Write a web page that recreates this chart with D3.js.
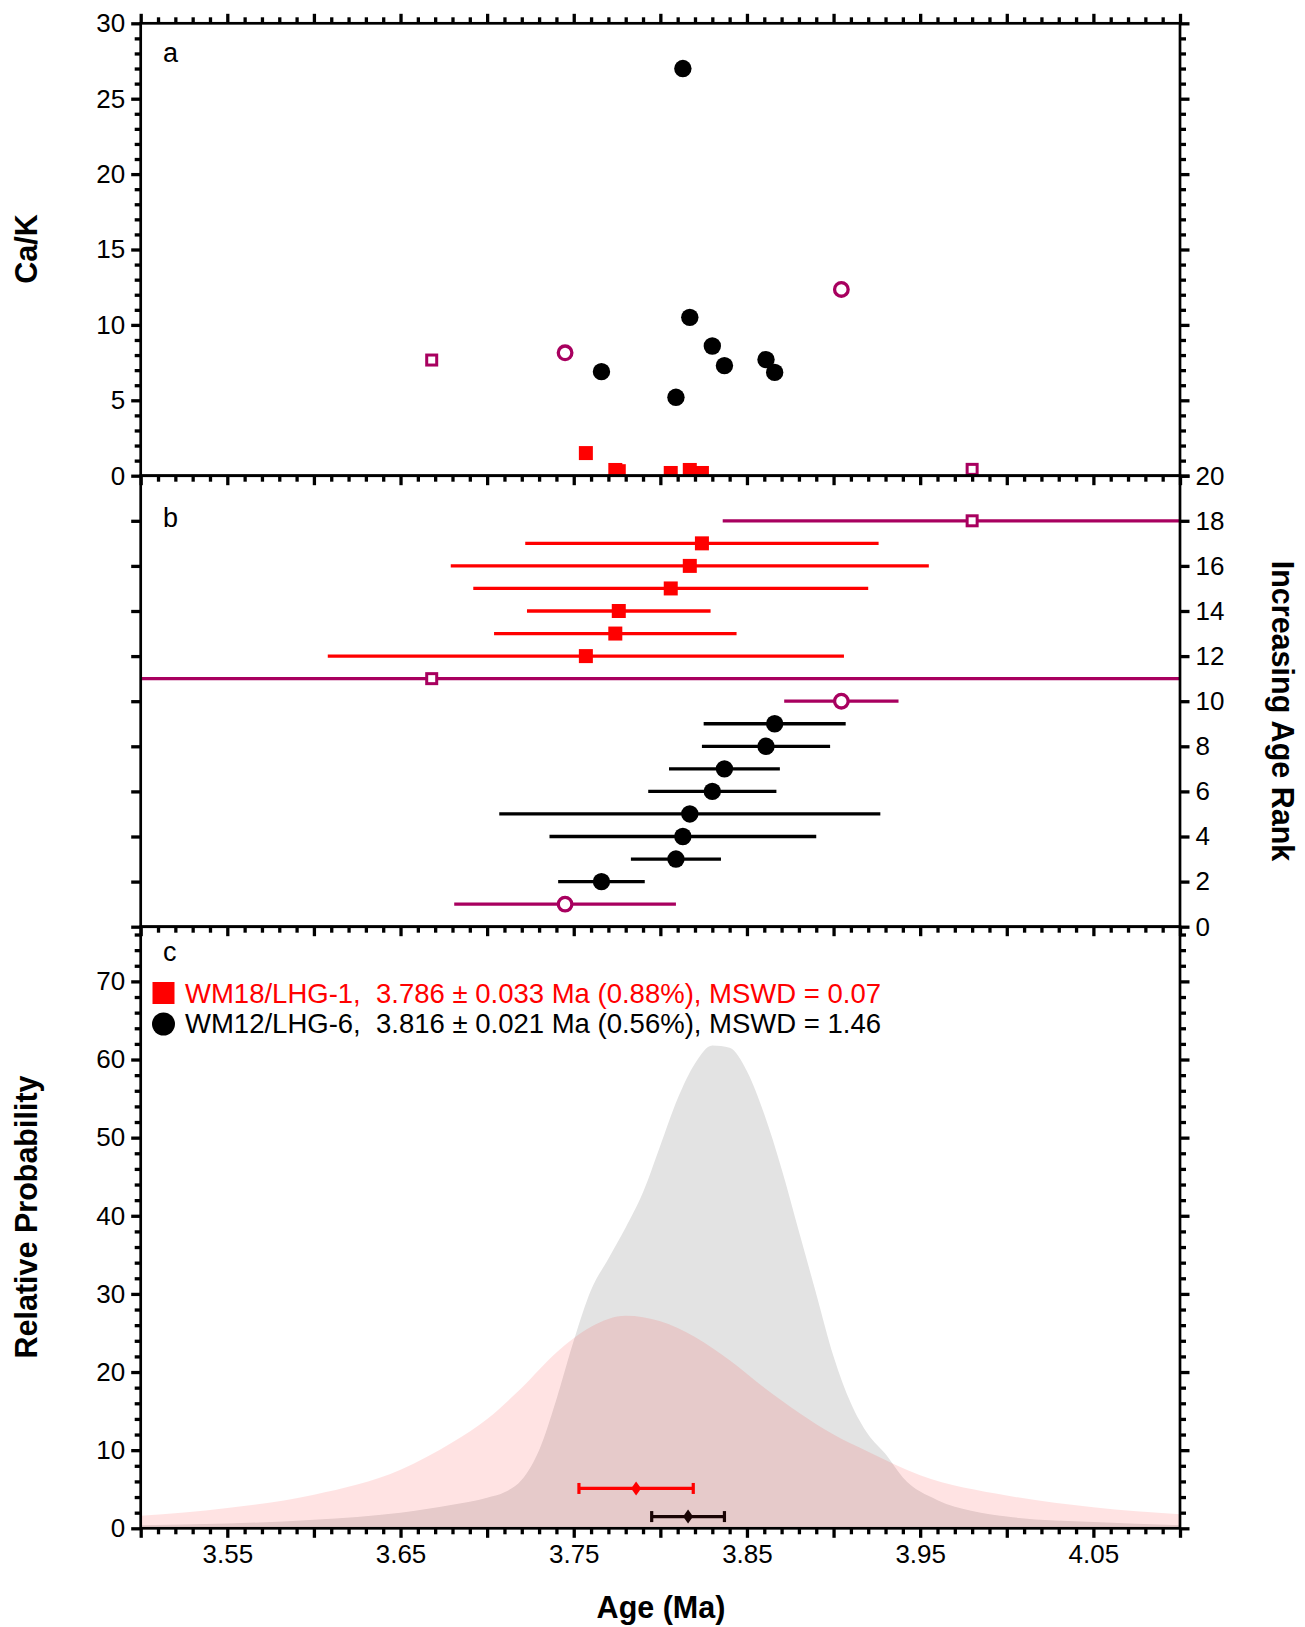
<!DOCTYPE html>
<html>
<head>
<meta charset="utf-8">
<script src="https://cdn.jsdelivr.net/npm/d3@7"></script>
<style>
  body { margin: 0; background: #fff; }
  svg text { font-family: "Liberation Sans", Arial, Helvetica, sans-serif; }
</style>
</head>
<body>
<div id="chart"></div>
<script>
// ---- data ----
// WM12/LHG-6 (black circles)
var blackRank = [2, 3, 4, 5, 6, 7, 8, 9];
var blackAge  = [3.766, 3.809, 3.813, 3.817, 3.830, 3.837, 3.861, 3.866];
var blackErr  = [0.025, 0.026, 0.077, 0.110, 0.037, 0.032, 0.037, 0.041];
var blackCaK  = [6.9, 5.2, 27.0, 10.5, 8.6, 7.3, 7.7, 6.85];

// WM18/LHG-1 (red squares)
var redRank = [12, 13, 14, 15, 16, 17];
var redAge  = [3.757, 3.774, 3.776, 3.806, 3.817, 3.824];
var redErr  = [0.149, 0.070, 0.053, 0.114, 0.138, 0.102];
var redCaK  = [1.5, 0.38, 0.3, 0.18, 0.38, 0.18];

// excluded (purple open circles / open squares)
var exclCircleRank = [1, 10];
var exclCircleAge  = [3.745, 3.9045];
var exclCircleErr  = [0.064, 0.033];
var exclCircleCaK  = [8.15, 12.35];

var exclSquareRank = [11, 18];
var exclSquareAge  = [3.668, 3.980];
var exclSquareErr  = [0.50, 0.144];
var exclSquareCaK  = [7.67, 0.42];

// probability curves (panel c)
var grayAges = [3.50, 3.55, 3.60, 3.65, 3.68, 3.70, 3.71, 3.72, 3.73, 3.74, 3.75, 3.76, 3.77, 3.78, 3.79, 3.80,
                3.81, 3.82, 3.83, 3.84, 3.85, 3.86, 3.87, 3.88, 3.89, 3.90, 3.91, 3.92, 3.93, 3.94, 3.96, 3.98,
                4.00, 4.05, 4.10];
var grayProb = [0.4, 0.6, 1.1, 2.0, 3.0, 3.9, 4.6, 6.2, 10, 16.5, 24, 30.5, 34.5, 38.5, 43, 49,
                55, 59.5, 61.8, 61.5, 58.5, 53, 46, 38, 30, 22, 16, 12, 9.5, 6.5, 3.6, 2.2,
                1.5, 0.8, 0.4];
var redAges = [3.50, 3.55, 3.60, 3.65, 3.68, 3.70, 3.72, 3.74, 3.76, 3.78, 3.80, 3.82, 3.84, 3.86, 3.88,
               3.90, 3.92, 3.95, 4.00, 4.05, 4.10];
var redProb = [1.6, 2.6, 4.3, 7.5, 11, 14, 18, 22.5, 25.8, 27.2, 26.5, 24.5, 21.5, 18, 14.8,
               12, 9.8, 6.8, 4.2, 2.7, 1.8];

// weighted mean ages
var meanLabels = ["WM18/LHG-1,  3.786 \u00b1 0.033 Ma (0.88%), MSWD = 0.07",
                  "WM12/LHG-6,  3.816 \u00b1 0.021 Ma (0.56%), MSWD = 1.46"];
var meanAge = [3.786, 3.816];
var meanErr = [0.033, 0.021];
var meanLevel = [5.1, 1.5];

// ticks
var xMajor = d3.range(13).map(function(i){ return +(3.5 + i * 0.05).toFixed(2); });
var xMinor = d3.range(61).map(function(i){ return +(3.5 + i * 0.01).toFixed(2); })
               .filter(function(v){ return xMajor.indexOf(v) < 0; });
var xLabels = [3.55, 3.65, 3.75, 3.85, 3.95, 4.05];

var RED = "#ff0000", PURPLE = "#a8005f", BLACK = "#000";

// ---- layout ----
var svg = d3.select("#chart").append("svg").attr("width", 1305).attr("height", 1627);
var left = 140.7, right = 1180;
var aTop = 23.3, aBot = 475.7, bBot = 926.7, cBot = 1528.3;

var x  = d3.scaleLinear().domain([3.5, 4.1]).range([left, right]);
var ya = d3.scaleLinear().domain([0, 30]).range([aBot, aTop]);
var yb = d3.scaleLinear().domain([0, 20]).range([bBot, aBot]);
var yc = d3.scaleLinear().domain([0, 77]).range([cBot, bBot]);

var defs = svg.append("defs");
function clip(id, y0, y1) {
  defs.append("clipPath").attr("id", id).append("rect")
    .attr("x", left).attr("y", y0).attr("width", right - left).attr("height", y1 - y0);
}
clip("clipA", aTop, aBot); clip("clipB", aBot, bBot); clip("clipC", bBot, cBot);

function rows(rank, age, err, cak, kind) {
  return rank.map(function(r, i){ return {rank: r, age: age[i], err: err[i], cak: cak[i], kind: kind}; });
}
var pts = [].concat(rows(blackRank, blackAge, blackErr, blackCaK, "black"),
                    rows(redRank, redAge, redErr, redCaK, "red"),
                    rows(exclCircleRank, exclCircleAge, exclCircleErr, exclCircleCaK, "pcircle"),
                    rows(exclSquareRank, exclSquareAge, exclSquareErr, exclSquareCaK, "psquare"));
function col(d){ return d.kind === "black" ? BLACK : d.kind === "red" ? RED : PURPLE; }

function marker(g, data, yFn) {
  data.forEach(function(d){
    var cx = x(d.age), cy = yFn(d);
    if (d.kind === "black") g.append("circle").attr("cx", cx).attr("cy", cy).attr("r", 8.7).attr("fill", BLACK);
    else if (d.kind === "red") g.append("rect").attr("x", cx - 7).attr("y", cy - 7).attr("width", 14).attr("height", 14).attr("fill", RED);
    else if (d.kind === "pcircle") g.append("circle").attr("cx", cx).attr("cy", cy).attr("r", 6.8)
        .attr("fill", "#fff").attr("stroke", PURPLE).attr("stroke-width", 3.3);
    else g.append("rect").attr("x", cx - 5).attr("y", cy - 5).attr("width", 10).attr("height", 10)
        .attr("fill", "#fff").attr("stroke", PURPLE).attr("stroke-width", 3);
  });
}

// ---- panel c: probability curves ----
var gc = svg.append("g").attr("clip-path", "url(#clipC)");
var area = d3.area().curve(d3.curveMonotoneX)
  .x(function(d){ return x(d[0]); }).y0(yc(0)).y1(function(d){ return yc(d[1]); });
gc.append("path").datum(d3.zip(grayAges, grayProb)).attr("d", area).attr("fill", "#e3e3e3");
gc.append("path").datum(d3.zip(redAges, redProb)).attr("d", area).attr("fill", "rgba(255,0,0,0.11)");

// weighted mean bars
var meanCol = [RED, "#1a0404"];
meanAge.forEach(function(m, i){
  var yy = yc(meanLevel[i]), x0 = x(m - meanErr[i]), x1 = x(m + meanErr[i]), xm = x(m);
  gc.append("line").attr("x1", x0).attr("x2", x1).attr("y1", yy).attr("y2", yy)
    .attr("stroke", meanCol[i]).attr("stroke-width", 3.2);
  [x0, x1].forEach(function(xx){
    gc.append("line").attr("x1", xx).attr("x2", xx).attr("y1", yy - 5.5).attr("y2", yy + 5.5)
      .attr("stroke", meanCol[i]).attr("stroke-width", 3.2);
  });
  gc.append("path").attr("d", "M" + xm + "," + (yy - 7) + "L" + (xm + 5) + "," + yy + "L" + xm + "," + (yy + 7) + "L" + (xm - 5) + "," + yy + "Z")
    .attr("fill", meanCol[i]);
});

// ---- panel b: age rank ----
var gb = svg.append("g").attr("clip-path", "url(#clipB)");
gb.selectAll(".eb").data(pts).enter().append("line")
  .attr("x1", function(d){ return x(d.age - d.err); })
  .attr("x2", function(d){ return x(d.age + d.err); })
  .attr("y1", function(d){ return yb(d.rank); })
  .attr("y2", function(d){ return yb(d.rank); })
  .attr("stroke", col).attr("stroke-width", 3.3);
marker(gb, pts, function(d){ return yb(d.rank); });

// ---- panel a: Ca/K ----
var ga = svg.append("g").attr("clip-path", "url(#clipA)");
marker(ga, pts, function(d){ return ya(d.cak); });

// ---- frames and ticks ----
[[aTop, aBot], [aBot, bBot], [bBot, cBot]].forEach(function(p){
  svg.append("rect").attr("x", left).attr("y", p[0]).attr("width", right - left).attr("height", p[1] - p[0])
    .attr("fill", "none").attr("stroke", "#000").attr("stroke-width", 2.7);
});

function tickAxis(gen, scale, values, size, tx, ty, fmt, pad) {
  var a = gen(scale).tickValues(values).tickSizeInner(size).tickSizeOuter(0).tickPadding(pad || 7)
    .tickFormat(fmt || function(){ return ""; });
  var g = svg.append("g").attr("transform", "translate(" + tx + "," + ty + ")").call(a);
  g.select(".domain").remove();
  g.attr("font-size", 26).attr("font-family", "'Liberation Sans', Arial, Helvetica, sans-serif");
  g.selectAll("line").attr("stroke", "#000").attr("stroke-width", 3.3);
  g.selectAll("text").attr("fill", "#000");
  return g;
}
var MAJ = 9.5, MIN = 6;
var intFmt = d3.format("d");
// x ticks on every horizontal boundary
tickAxis(d3.axisTop, x, xMajor, MAJ, 0, aTop);
tickAxis(d3.axisTop, x, xMinor, MIN, 0, aTop);
[aBot, bBot].forEach(function(yy){
  tickAxis(d3.axisBottom, x, xMajor, MAJ, 0, yy);
  tickAxis(d3.axisBottom, x, xMinor, MIN, 0, yy);
});
tickAxis(d3.axisBottom, x, xMajor, MAJ, 0, cBot);
tickAxis(d3.axisBottom, x, xMinor, MIN, 0, cBot);
tickAxis(d3.axisBottom, x, xLabels, 0, 0, cBot, d3.format(".2f"), 16);

// panel a
tickAxis(d3.axisLeft, ya, d3.range(0, 31, 5), MAJ, left, 0, intFmt, 6);
tickAxis(d3.axisLeft, ya, d3.range(0, 31, 1).filter(function(v){ return v % 5; }), MIN, left, 0);
tickAxis(d3.axisRight, ya, d3.range(0, 31, 5), MAJ, right, 0);
tickAxis(d3.axisRight, ya, d3.range(0, 31, 1).filter(function(v){ return v % 5; }), MIN, right, 0);
// panel b
tickAxis(d3.axisLeft, yb, d3.range(0, 20, 2), MAJ, left, 0);
tickAxis(d3.axisRight, yb, d3.range(0, 21, 2), MAJ, right, 0, intFmt, 6);
// panel c
tickAxis(d3.axisLeft, yc, d3.range(0, 71, 10), MAJ, left, 0, intFmt, 6);
tickAxis(d3.axisLeft, yc, d3.range(0, 77, 2).filter(function(v){ return v % 10; }), MIN, left, 0);
tickAxis(d3.axisRight, yc, d3.range(0, 71, 10), MAJ, right, 0);
tickAxis(d3.axisRight, yc, d3.range(0, 77, 2).filter(function(v){ return v % 10; }), MIN, right, 0);

// ---- labels ----
[["a", 62], ["b", 527], ["c", 961]].forEach(function(p){
  svg.append("text").attr("x", 163).attr("y", p[1]).attr("font-size", 27).text(p[0]);
});

function title(txt, tx, ty, rot) {
  svg.append("text").attr("transform", "translate(" + tx + "," + ty + ")" + (rot ? " rotate(" + rot + ")" : ""))
    .attr("text-anchor", "middle").attr("font-size", 30.5).attr("font-weight", "bold").text(txt);
}
title("Ca/K", 37, 249, -90);
title("Relative Probability", 37, 1217, -90);
title("Increasing Age Rank", 1272, 711, 90);
title("Age (Ma)", 661, 1618, 0);

// legend
svg.append("rect").attr("x", 152.5).attr("y", 982).attr("width", 22).attr("height", 22).attr("fill", RED);
svg.append("circle").attr("cx", 163.5).attr("cy", 1024).attr("r", 11.5).attr("fill", BLACK);
[[meanLabels[0], 1003, RED], [meanLabels[1], 1033, BLACK]].forEach(function(p){
  svg.append("text").attr("x", 185).attr("y", p[1]).attr("font-size", 27.5).attr("fill", p[2])
    .attr("xml:space", "preserve").style("white-space", "pre").text(p[0]);
});
</script>
</body>
</html>
